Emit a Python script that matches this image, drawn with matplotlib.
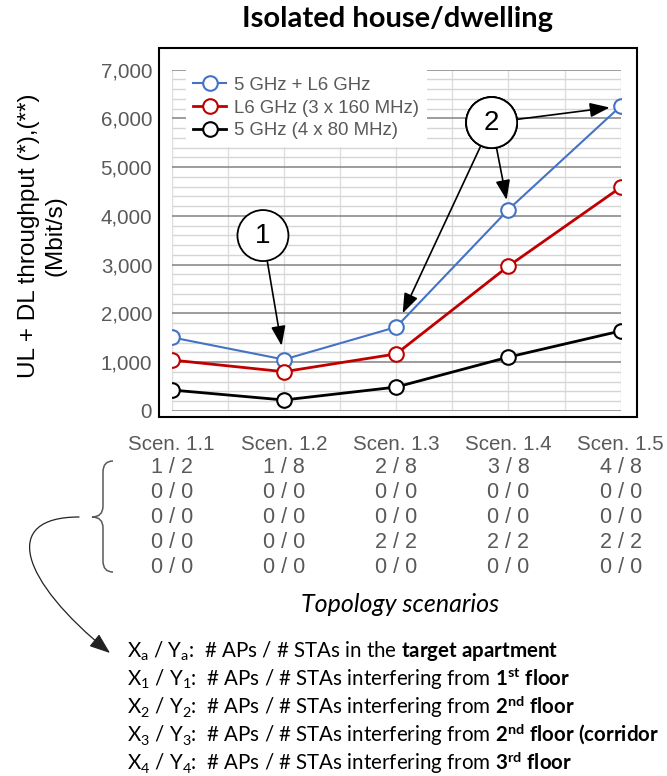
import matplotlib
matplotlib.use("Agg")
import matplotlib.pyplot as plt
from matplotlib.ticker import MultipleLocator, FuncFormatter
from matplotlib.patches import Rectangle, FancyArrowPatch, PathPatch
from matplotlib.path import Path
from matplotlib.transforms import Affine2D, blended_transform_factory

plt.rcParams['font.family'] = ['Liberation Sans', 'DejaVu Sans']
plt.rcParams['mathtext.fontset'] = 'custom'
plt.rcParams['mathtext.rm'] = 'Lato'
plt.rcParams['mathtext.it'] = 'Lato:italic'
plt.rcParams['mathtext.bf'] = 'Lato:bold'

# data
scenarios = ['Scen. 1.1', 'Scen. 1.2', 'Scen. 1.3', 'Scen. 1.4', 'Scen. 1.5']
combo = [1510, 1055, 1720, 4130, 6250]      # 5 GHz + L6 GHz
l6 = [1045, 805, 1170, 2970, 4585]           # L6 GHz (3 x 160 MHz)
g5 = [430, 225, 490, 1105, 1640]             # 5 GHz (4 x 80 MHz)

topo_rows = [
    ['1 / 2', '1 / 8', '2 / 8', '3 / 8', '4 / 8'],
    ['0 / 0', '0 / 0', '0 / 0', '0 / 0', '0 / 0'],
    ['0 / 0', '0 / 0', '0 / 0', '0 / 0', '0 / 0'],
    ['0 / 0', '0 / 0', '2 / 2', '2 / 2', '2 / 2'],
    ['0 / 0', '0 / 0', '0 / 0', '0 / 0', '0 / 0'],
]

notes = [
    r"X$_{\mathrm{a}}$ / Y$_{\mathrm{a}}$:  # APs / # STAs in the $\mathbf{target\ apartment}$",
    r"X$_{1}$ / Y$_{1}$:  # APs / # STAs interfering from $\mathbf{1^{st}\ floor}$",
    r"X$_{2}$ / Y$_{2}$:  # APs / # STAs interfering from $\mathbf{2^{nd}\ floor}$",
    r"X$_{3}$ / Y$_{3}$:  # APs / # STAs interfering from $\mathbf{2^{nd}\ floor\ (corridor}$",
    r"X$_{4}$ / Y$_{4}$:  # APs / # STAs interfering from $\mathbf{3^{rd}\ floor}$",
]

W, H = 667, 776
fig = plt.figure(figsize=(W / 100, H / 100), dpi=100)
# pixel coords measured from the top-left corner of the picture
px = Affine2D().scale(1 / W, -1 / H).translate(0, 1) + fig.transFigure

ax = fig.add_axes([0.2574, 0.4704, 0.6732, 0.44])
x = list(range(len(scenarios)))

ax.plot(x, combo, color='#4472C4', lw=1.5, marker='o', ms=10.5, mfc='white', mew=1.5,
        label='5 GHz + L6 GHz', zorder=3)
ax.plot(x, l6, color='#C00000', lw=2, marker='o', ms=10.5, mfc='white', mew=1.5,
        label='L6 GHz (3 x 160 MHz)', zorder=3)
ax.plot(x, g5, color='black', lw=2, marker='o', ms=10.5, mfc='white', mew=1.5,
        label='5 GHz (4 x 80 MHz)', zorder=3)

ax.set_xlim(0, 4)
ax.set_ylim(0, 7000)
ax.yaxis.set_major_locator(MultipleLocator(1000))
ax.yaxis.set_minor_locator(MultipleLocator(200))
ax.xaxis.set_minor_locator(MultipleLocator(0.5))
ax.yaxis.set_major_formatter(FuncFormatter(lambda v, p: f'{int(v):,}'))
ax.set_xticks(x, scenarios)
ax.grid(which='minor', axis='y', color='#d6d6d6', lw=1.0)
ax.grid(which='major', axis='y', color='#8c8c8c', lw=1.2)
ax.grid(which='both', axis='x', color='#dedede', lw=1.0)
ax.set_axisbelow(True)
for s in ax.spines.values():
    s.set_visible(False)
ax.tick_params(which='both', length=0)
ax.tick_params(axis='y', labelsize=14.8, labelcolor='#595959', pad=14)
ax.tick_params(axis='x', labelsize=14.8, labelcolor='#595959', pad=17)

leg = ax.legend(loc='upper left', bbox_to_anchor=(0.032, 1.0), frameon=True, fancybox=False,
                edgecolor='none', facecolor='white', framealpha=1, fontsize=13.4,
                handlelength=1.75, handletextpad=0.45, labelspacing=0.3,
                borderpad=0.4, borderaxespad=0, labelcolor='#595959')

# topology rows below the scenario labels
tr = blended_transform_factory(ax.transData, ax.transAxes)
row_y = [-0.167, -0.240, -0.313, -0.384, -0.457]
for ry, row in zip(row_y, topo_rows):
    for xi, val in zip(x, row):
        ax.text(xi, ry, val, transform=tr, ha='center', va='center', fontsize=15.5,
                color='#595959', clip_on=False)

# numbered callouts
circ = dict(boxstyle='circle,pad=0.45', fc='white', ec='black', lw=1.3)
def arrow(shrink):
    return dict(arrowstyle='-|>,head_length=0.6,head_width=0.22', color='black', lw=1.2,
                mutation_scale=20, shrinkA=0, shrinkB=shrink)

ax.annotate('1', xy=(1, combo[1]), xytext=(0.813, 3596), ha='center', va='center',
            fontsize=20, bbox=circ, arrowprops=arrow(10), zorder=5)
for idx, sh in [(2, 11), (3, 7), (4, 8)]:
    ax.annotate('2', xy=(idx, combo[idx]), xytext=(2.85, 5912), ha='center', va='center',
                fontsize=20, bbox=circ, arrowprops=arrow(sh), zorder=5)

# frame around the chart
fig.add_artist(Rectangle((159, 417), 478, -369, transform=px, fill=False, ec='black', lw=1.5))

fig.text(397 / W, 1 - 19 / H, 'Isolated house/dwelling', ha='center', va='center',
         fontsize=21, fontweight='bold', family='Lato')
fig.text(42 / W, 1 - 236 / H, 'UL + DL throughput (*),(**)\n(Mbit/s)', rotation=90,
         ha='center', va='center', multialignment='center', fontsize=17.5, linespacing=1.25)
fig.text(400 / W, 1 - 604 / H, 'Topology scenarios', ha='center', va='center',
         fontsize=18, style='italic', family='Lato')

# brace and curved arrow to the legend of the rows
brace = Path([(113, 461), (103, 461), (103, 472), (103, 506), (103, 517), (92, 517),
              (103, 517), (103, 528), (103, 561), (103, 572), (113, 572)],
             [Path.MOVETO, Path.CURVE3, Path.CURVE3, Path.LINETO, Path.CURVE3, Path.CURVE3,
              Path.CURVE3, Path.CURVE3, Path.LINETO, Path.CURVE3, Path.CURVE3])
fig.add_artist(PathPatch(brace, transform=px, fill=False, ec='#595959', lw=1.1))

curve = Path([(79, 517), (0, 517), (20, 580), (110, 653)],
             [Path.MOVETO, Path.CURVE4, Path.CURVE4, Path.CURVE4])
fig.add_artist(FancyArrowPatch(path=curve, transform=px,
                               arrowstyle='-|>,head_length=0.8,head_width=0.3',
                               mutation_scale=16, color='#222222', lw=0.9))

for i, line in enumerate(notes):
    fig.text(127 / W, 1 - (651 + 28 * i) / H, line, ha='left', va='center',
             fontsize=14.8, family='Lato')

fig.savefig('out.png', dpi=100)
